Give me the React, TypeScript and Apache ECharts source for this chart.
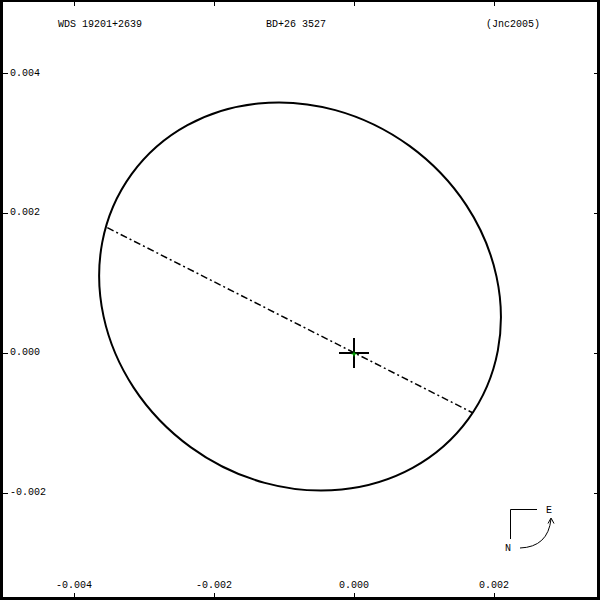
import React, { useEffect, useRef } from "react";
import * as echarts from "echarts";

// ---- data ----
const titleLeft = "WDS 19201+2639";
const titleMid = "BD+26 3527";
const titleRight = "(Jnc2005)";

const xTicks = [-0.004, -0.002, 0.0, 0.002];
const yTicks = [-0.002, 0.0, 0.002, 0.004];

// visible extent of the plot (data units)
const xRange = [-0.005057, 0.003514];
const yRange = [-0.003529, 0.005043];

// apparent orbit ellipse: centre, semi-axes, tilt of major axis (deg, counter-clockwise)
const orbitCenter = [-0.000771, 0.000807];
const orbitSemiAxes = [0.002974, 0.002659];
const orbitTiltDeg = -36;

// line of nodes end points
const nodeLineX = [-0.003524, 0.0017];
const nodeLineY = [0.00179, -0.000857];

// primary star
const primary = [0, 0];

const FONT = '"Liberation Mono", "DejaVu Sans Mono", monospace';

export default function App() {
  const ref = useRef<HTMLDivElement>(null);

  useEffect(() => {
    if (!ref.current) return;
    const chart = echarts.init(ref.current, null, { renderer: "svg" });

    const labelStyle = {
      fontFamily: FONT,
      fontSize: 10,
      color: "#000",
    };

    const tick = (len: number, values: number[]) => ({
      show: true,
      inside: true,
      length: len,
      customValues: values,
      lineStyle: { color: "#000", width: 1 },
    });
    const hiddenLine = { show: false, onZero: false, lineStyle: { color: "#000" } };

    const option: any = {
      animation: false,
      backgroundColor: "#fff",
      grid: { left: 0, right: 0, top: 0, bottom: 0, containLabel: false },
      xAxis: [
        {
          type: "value",
          min: xRange[0],
          max: xRange[1],
          position: "bottom",
          axisLine: hiddenLine,
          splitLine: { show: false },
          axisTick: tick(7, xTicks),
          axisLabel: {
            show: true,
            inside: true,
            margin: 10,
            customValues: xTicks,
            formatter: (v: number) => v.toFixed(3),
            ...labelStyle,
          },
        },
        {
          type: "value",
          min: xRange[0],
          max: xRange[1],
          position: "top",
          axisLine: hiddenLine,
          splitLine: { show: false },
          axisTick: tick(6, xTicks),
          axisLabel: { show: false },
        },
      ],
      yAxis: [
        {
          type: "value",
          min: yRange[0],
          max: yRange[1],
          position: "left",
          axisLine: hiddenLine,
          splitLine: { show: false },
          axisTick: tick(8, yTicks),
          axisLabel: {
            show: true,
            inside: true,
            margin: 10,
            customValues: yTicks,
            formatter: (v: number) => v.toFixed(3),
            ...labelStyle,
          },
        },
        {
          type: "value",
          min: yRange[0],
          max: yRange[1],
          position: "right",
          axisLine: hiddenLine,
          splitLine: { show: false },
          axisTick: tick(6, yTicks),
          axisLabel: { show: false },
        },
      ],
      series: [
        {
          type: "custom",
          name: "orbit",
          clip: false,
          data: [[orbitCenter[0], orbitCenter[1], orbitSemiAxes[0], orbitSemiAxes[1], orbitTiltDeg]],
          renderItem: (params: any, api: any) => {
            const c = api.coord([api.value(0), api.value(1)]);
            const s = api.size([api.value(2), api.value(3)]);
            return {
              type: "ellipse",
              x: c[0],
              y: c[1],
              rotation: (api.value(4) * Math.PI) / 180,
              shape: { cx: 0, cy: 0, rx: s[0], ry: s[1] },
              style: { fill: "none", stroke: "#000", lineWidth: 2 },
            };
          },
        },
        {
          type: "line",
          name: "nodes",
          data: nodeLineX.map((x, i) => [x, nodeLineY[i]]),
          symbol: "none",
          lineStyle: { color: "#000", width: 1.5, type: [7, 3, 2, 3] },
        },
        {
          type: "custom",
          name: "primary",
          clip: false,
          data: [primary],
          z: 5,
          renderItem: (params: any, api: any) => {
            const c = api.coord([api.value(0), api.value(1)]);
            const r = 15;
            const g = 2.5;
            return {
              type: "group",
              children: [
                { type: "line", shape: { x1: c[0] - r, y1: c[1], x2: c[0] + r, y2: c[1] }, style: { stroke: "#000", lineWidth: 2 } },
                { type: "line", shape: { x1: c[0], y1: c[1] - r, x2: c[0], y2: c[1] + r }, style: { stroke: "#000", lineWidth: 2 } },
                { type: "line", shape: { x1: c[0] - g, y1: c[1] + 1, x2: c[0] + g, y2: c[1] + 1 }, style: { stroke: "#00c800", lineWidth: 1 } },
                { type: "line", shape: { x1: c[0], y1: c[1] - g + 1, x2: c[0], y2: c[1] + g + 1 }, style: { stroke: "#00c800", lineWidth: 1 } },
              ],
            };
          },
        },
      ],
      graphic: [
        // frame
        { type: "line", z: 100, shape: { x1: 1.5, y1: 0, x2: 1.5, y2: 600 }, style: { stroke: "#000", lineWidth: 3 } },
        { type: "line", z: 100, shape: { x1: 598.5, y1: 0, x2: 598.5, y2: 600 }, style: { stroke: "#000", lineWidth: 3 } },
        { type: "line", z: 100, shape: { x1: 0, y1: 1, x2: 600, y2: 1 }, style: { stroke: "#000", lineWidth: 2 } },
        { type: "line", z: 100, shape: { x1: 0, y1: 598.5, x2: 600, y2: 598.5 }, style: { stroke: "#000", lineWidth: 3 } },
        // titles
        { type: "text", x: 100, y: 24, style: { text: titleLeft, font: `10px ${FONT}`, fill: "#000", textAlign: "center", textVerticalAlign: "middle" } },
        { type: "text", x: 296, y: 24, style: { text: titleMid, font: `10px ${FONT}`, fill: "#000", textAlign: "center", textVerticalAlign: "middle" } },
        { type: "text", x: 513, y: 24, style: { text: titleRight, font: `10px ${FONT}`, fill: "#000", textAlign: "center", textVerticalAlign: "middle" } },
        // compass
        { type: "polyline", shape: { points: [[510.5, 539], [510.5, 509.5], [537, 509.5]] }, style: { stroke: "#000", lineWidth: 1, fill: "none" } },
        { type: "text", x: 549, y: 510, style: { text: "E", font: `10px ${FONT}`, fill: "#000", textAlign: "center", textVerticalAlign: "middle" } },
        { type: "text", x: 508, y: 548.5, style: { text: "N", font: `10px ${FONT}`, fill: "#000", textAlign: "center", textVerticalAlign: "middle" } },
        { type: "bezierCurve", shape: { x1: 520, y1: 548, cpx1: 548, cpy1: 547, x2: 551, y2: 519 }, style: { stroke: "#000", lineWidth: 1, fill: "none" } },
        { type: "polyline", shape: { points: [[548, 523.5], [551, 518], [554, 523.5]] }, style: { stroke: "#000", lineWidth: 1, fill: "none" } },
      ],
    };

    chart.setOption(option);
    return () => chart.dispose();
  }, []);

  return (
    <div
      ref={ref}
      style={{ position: "fixed", left: 0, top: 0, width: 600, height: 600 }}
    />
  );
}
